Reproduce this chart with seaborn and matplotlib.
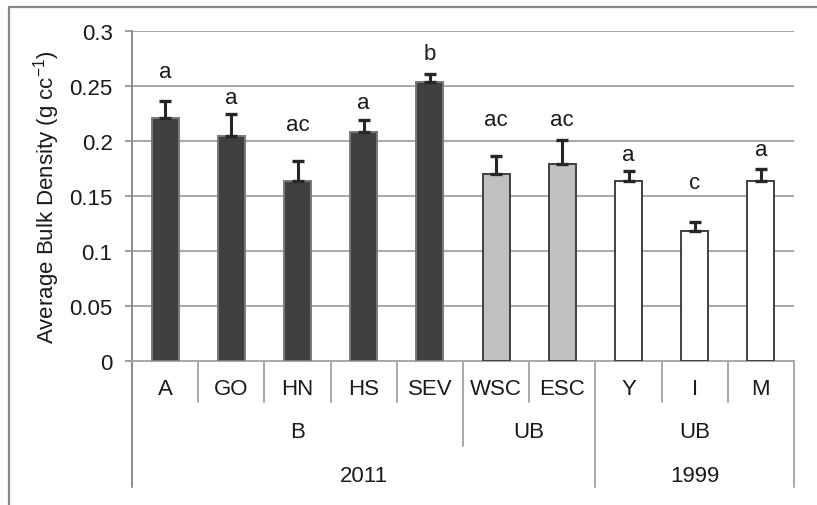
import matplotlib
matplotlib.use("Agg")
import matplotlib.pyplot as plt
import matplotlib.transforms as mtransforms
from matplotlib.lines import Line2D
import seaborn as sns
import pandas as pd

# Site means, standard errors and significance letters
sites = ["A", "GO", "HN", "HS", "SEV", "WSC", "ESC", "Y", "I", "M"]
burn = ["B", "B", "B", "B", "B", "UB", "UB", "UB", "UB", "UB"]
years = ["2011", "2011", "2011", "2011", "2011", "2011", "2011", "1999", "1999", "1999"]
mean_density = [0.221, 0.205, 0.164, 0.208, 0.254, 0.170, 0.179, 0.164, 0.118, 0.164]
std_error = [0.015, 0.020, 0.018, 0.011, 0.007, 0.016, 0.022, 0.009, 0.008, 0.011]
letters = ["a", "a", "ac", "a", "b", "ac", "ac", "a", "c", "a"]
letter_height = [0.263, 0.240, 0.215, 0.235, 0.280, 0.220, 0.220, 0.188, 0.162, 0.192]

sns.set_theme(style="white")
plt.rcParams["font.family"] = ["Liberation Sans", "DejaVu Sans"]
plt.rcParams["mathtext.fontset"] = "custom"
plt.rcParams["mathtext.rm"] = "Liberation Sans"
plt.rcParams["mathtext.it"] = "Liberation Sans"

FS = 16
GRID = "#a8a8a8"
AXC = "#8c8c8c"
TXT = "#1a1a1a"

fig = plt.figure(figsize=(8.17, 5.06), dpi=100)
ax = fig.add_axes([132 / 817, 1 - 362 / 506, (794 - 132) / 817, (362 - 32) / 506])

df = pd.DataFrame({"site": sites, "burn": burn, "year": years, "density": mean_density})

# fill per group: burned 2011 dark, unburned 2011 light grey, 1999 white
fill_for = {("2011", "B"): "#404040", ("2011", "UB"): "#c0c0c0", ("1999", "UB"): "#ffffff"}
edge_for = {("2011", "B"): "#7a7a7a", ("2011", "UB"): "#404040", ("1999", "UB"): "#404040"}
bar_colors = [fill_for[(y, b)] for y, b in zip(years, burn)]
bar_edges = [edge_for[(y, b)] for y, b in zip(years, burn)]

sns.barplot(data=df, x="site", y="density", hue="site", palette=bar_colors,
            order=sites, hue_order=sites, legend=False, width=0.41,
            saturation=1, ax=ax, zorder=3)
for patch, ec in zip(ax.patches, bar_edges):
    patch.set_edgecolor(ec)
    patch.set_linewidth(1.4)

xpos = list(range(len(sites)))
ax.errorbar(xpos, mean_density, yerr=[[0] * len(sites), std_error], fmt="none",
            ecolor="#262626", elinewidth=2.2, capsize=4.5, capthick=2.4, zorder=4)

for x, lab, h in zip(xpos, letters, letter_height):
    ax.text(x, h, lab, ha="center", va="center", fontsize=FS, color=TXT)

ax.set_ylim(0, 0.3)
ax.set_xlim(-0.5, len(sites) - 0.5)
ax.set_yticks([0, 0.05, 0.1, 0.15, 0.2, 0.25, 0.3])
ax.set_yticklabels(["0", "0.05", "0.1", "0.15", "0.2", "0.25", "0.3"], fontsize=FS, color=TXT)
ax.yaxis.grid(True, color=GRID, linewidth=1.4, zorder=0)
ax.set_axisbelow(True)
ax.tick_params(axis="y", which="both", left=True, length=5, width=1.2, color=AXC, pad=9)
ax.tick_params(axis="x", bottom=False, labelbottom=False)
ax.set_xlabel("")
ax.set_ylabel(r"Average Bulk Density (g cc$^{-1}$)", fontsize=FS, color=TXT, labelpad=5)

for side in ["top", "right"]:
    ax.spines[side].set_visible(False)
ax.spines["left"].set_color(AXC)
ax.spines["left"].set_linewidth(1.4)
ax.spines["bottom"].set_color(GRID)
ax.spines["bottom"].set_linewidth(1.4)

# Three-level category axis below the bars
ax_h = 330.0
row_text = [-28 / ax_h, -71 / ax_h, -115 / ax_h]
row_line = [-41 / ax_h, -85 / ax_h, -126 / ax_h]
trans = mtransforms.blended_transform_factory(ax.transData, ax.transAxes)

levels = [sites, [f"{y}|{b}" for y, b in zip(years, burn)], years]
shown = [sites, burn, years]
n = len(sites)
boundary_depth = {}
for depth, keys in enumerate(levels):
    start = 0
    for i in range(1, n + 1):
        if i == n or keys[i] != keys[start]:
            ax.text((start + i - 1) / 2, row_text[depth], shown[depth][start],
                    transform=trans, ha="center", va="center", fontsize=FS,
                    color=TXT)
            for edge in (start - 0.5, i - 0.5):
                boundary_depth[edge] = max(boundary_depth.get(edge, 0), depth)
            start = i
for edge, depth in boundary_depth.items():
    ax.add_line(Line2D([edge, edge], [0, row_line[depth]], transform=trans,
                       color=AXC if edge == -0.5 else GRID, linewidth=1.4,
                       clip_on=False))

# outer chart frame
fig.add_artist(Line2D([9 / 817, 1], [1 - 8 / 506, 1 - 8 / 506], transform=fig.transFigure,
                      color="#888888", linewidth=1.6))
fig.add_artist(Line2D([9 / 817, 9 / 817], [0, 1 - 8 / 506], transform=fig.transFigure,
                      color="#888888", linewidth=1.6))

fig.savefig("out.png", dpi=100)
